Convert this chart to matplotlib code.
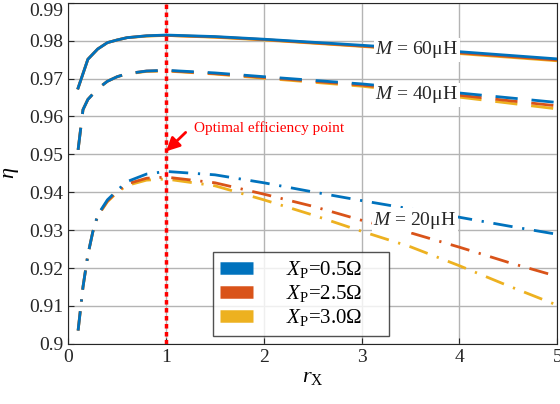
import numpy as np
import matplotlib.pyplot as plt
from matplotlib.lines import Line2D

plt.rcParams['font.family'] = ['Liberation Serif', 'DejaVu Serif']
plt.rcParams['mathtext.fontset'] = 'custom'
plt.rcParams['mathtext.rm'] = 'Liberation Serif'
plt.rcParams['mathtext.it'] = 'Liberation Serif:italic'

# data
x_60 = [0.1, 0.2, 0.3, 0.4, 0.5, 0.6, 0.8, 1.0, 1.5, 2, 3, 4, 5]
eta60_05 = [0.9675, 0.9751, 0.9778, 0.9795, 0.9802, 0.9808, 0.9813, 0.9815, 0.9811, 0.9804, 0.9788, 0.9771, 0.9752]
eta60_25 = [0.9675, 0.9751, 0.9778, 0.9795, 0.9802, 0.9808, 0.9813, 0.9814, 0.9810, 0.9803, 0.9786, 0.9768, 0.9749]
eta60_30 = [0.9675, 0.9751, 0.9778, 0.9795, 0.9802, 0.9808, 0.9812, 0.9814, 0.9809, 0.9802, 0.9785, 0.9766, 0.9747]

x_40 = [0.1, 0.15, 0.2, 0.3, 0.4, 0.5, 0.6, 0.8, 1.0, 1.5, 2, 3, 4, 5]
eta40_05 = [0.9512, 0.9618, 0.9645, 0.9673, 0.9693, 0.9705, 0.9713, 0.9720, 0.9722, 0.9715, 0.9705, 0.9686, 0.9662, 0.9637]
eta40_25 = [0.9512, 0.9618, 0.9645, 0.9673, 0.9693, 0.9705, 0.9713, 0.9720, 0.9721, 0.9713, 0.9703, 0.9683, 0.9656, 0.9628]
eta40_30 = [0.9512, 0.9618, 0.9645, 0.9673, 0.9693, 0.9705, 0.9712, 0.9719, 0.9720, 0.9712, 0.9701, 0.9680, 0.9651, 0.9620]

x_20 = [0.1, 0.15, 0.2, 0.25, 0.3, 0.4, 0.5, 0.6, 0.8, 1.0, 1.5, 2, 2.5, 3, 3.5, 4, 4.5, 5]
eta20_05 = [0.9035, 0.9150, 0.9235, 0.9295, 0.9340, 0.9380, 0.9405, 0.9428, 0.9448, 0.9455, 0.9446, 0.9425, 0.9401, 0.9378, 0.9356, 0.9334, 0.9311, 0.9289]
eta20_25 = [0.9035, 0.9150, 0.9235, 0.9295, 0.9338, 0.9377, 0.9402, 0.9422, 0.9437, 0.9440, 0.9425, 0.9395, 0.9363, 0.9326, 0.9293, 0.9255, 0.9215, 0.9178]
eta20_30 = [0.9035, 0.9150, 0.9235, 0.9295, 0.9337, 0.9375, 0.9400, 0.9418, 0.9432, 0.9435, 0.9417, 0.9380, 0.9340, 0.9297, 0.9256, 0.9206, 0.9153, 0.9102]

colors = ['#0072BD', '#D95319', '#EDB120']
labels = [r'$X_{\mathrm{P}}$=0.5Ω', r'$X_{\mathrm{P}}$=2.5Ω', r'$X_{\mathrm{P}}$=3.0Ω']

fig = plt.figure(figsize=(5.6, 4.04), dpi=100)
ax = fig.add_axes([0.122, 0.149, 0.873, 0.844])

lw = 2.0
dash40 = (0, (8, 5))
dash20 = (0, (7, 3.5, 0.8, 3.5))
sets60 = [eta60_05, eta60_25, eta60_30]
sets40 = [eta40_05, eta40_25, eta40_30]
sets20 = [eta20_05, eta20_25, eta20_30]
for i in [2, 1, 0]:
    ax.plot(x_60, sets60[i], color=colors[i], lw=lw, zorder=3 + (2 - i) * 0.1)
    ax.plot(x_40, sets40[i], color=colors[i], lw=lw, ls=dash40, zorder=3 + (2 - i) * 0.1)
    ax.plot(x_20, sets20[i], color=colors[i], lw=lw, ls=dash20, zorder=3 + (2 - i) * 0.1)

ax.axvline(1, color='red', lw=2.5, ls=(0, (1.3, 1.0)), zorder=4)

box = dict(facecolor='white', edgecolor='none', pad=1)
ax.text(3.14, 0.9776, r'$M$ = 60μH', fontsize=14, va='center', ha='left', bbox=box, zorder=5, color='#262626')
ax.text(3.14, 0.9657, r'$M$ = 40μH', fontsize=14, va='center', ha='left', bbox=box, zorder=5, color='#262626')
ax.text(3.12, 0.9326, r'$M$ = 20μH', fontsize=14, va='center', ha='left', bbox=box, zorder=5, color='#262626')

ax.annotate('', xy=(1.0, 0.9508), xytext=(1.2, 0.9558),
            arrowprops=dict(arrowstyle='-|>', color='red', lw=2, mutation_scale=20,
                            shrinkA=0, shrinkB=0), zorder=6)
ax.text(1.29, 0.9570, 'Optimal efficiency point', color='red', fontsize=11, va='center', ha='left')

ax.set_xlim(0, 5)
ax.set_ylim(0.9, 0.99)
ax.set_xticks([0, 1, 2, 3, 4, 5])
yt = [0.9, 0.91, 0.92, 0.93, 0.94, 0.95, 0.96, 0.97, 0.98, 0.99]
ax.set_yticks(yt)
ax.set_yticklabels(['0.9'] + ['%.2f' % v for v in yt[1:]])
ax.get_yticklabels()[-1].set_verticalalignment('top')
ax.tick_params(direction='in', labelsize=14, colors='#262626', length=4)
ax.grid(True, color='#b4b4b4', lw=1)
for s in ax.spines.values():
    s.set_color('#262626')
ax.set_xlabel(r'$r_{\mathrm{X}}$', fontsize=16, labelpad=2)
ax.set_ylabel(r'$\eta$', fontsize=16, labelpad=6)

handles = [Line2D([], [], color=c, lw=9, solid_capstyle='butt') for c in colors]
leg = ax.legend(handles, labels, loc='upper left', bbox_to_anchor=(0.296, 0.04, 0.36, 0.23),
                mode='expand', fontsize=15, frameon=True, fancybox=False, edgecolor='#262626',
                handlelength=1.55, handletextpad=1.6, borderpad=0.35, labelspacing=0.15,
                borderaxespad=0)
leg.get_frame().set_linewidth(1)
leg.set_zorder(10)

fig.savefig('out.png', dpi=100)
